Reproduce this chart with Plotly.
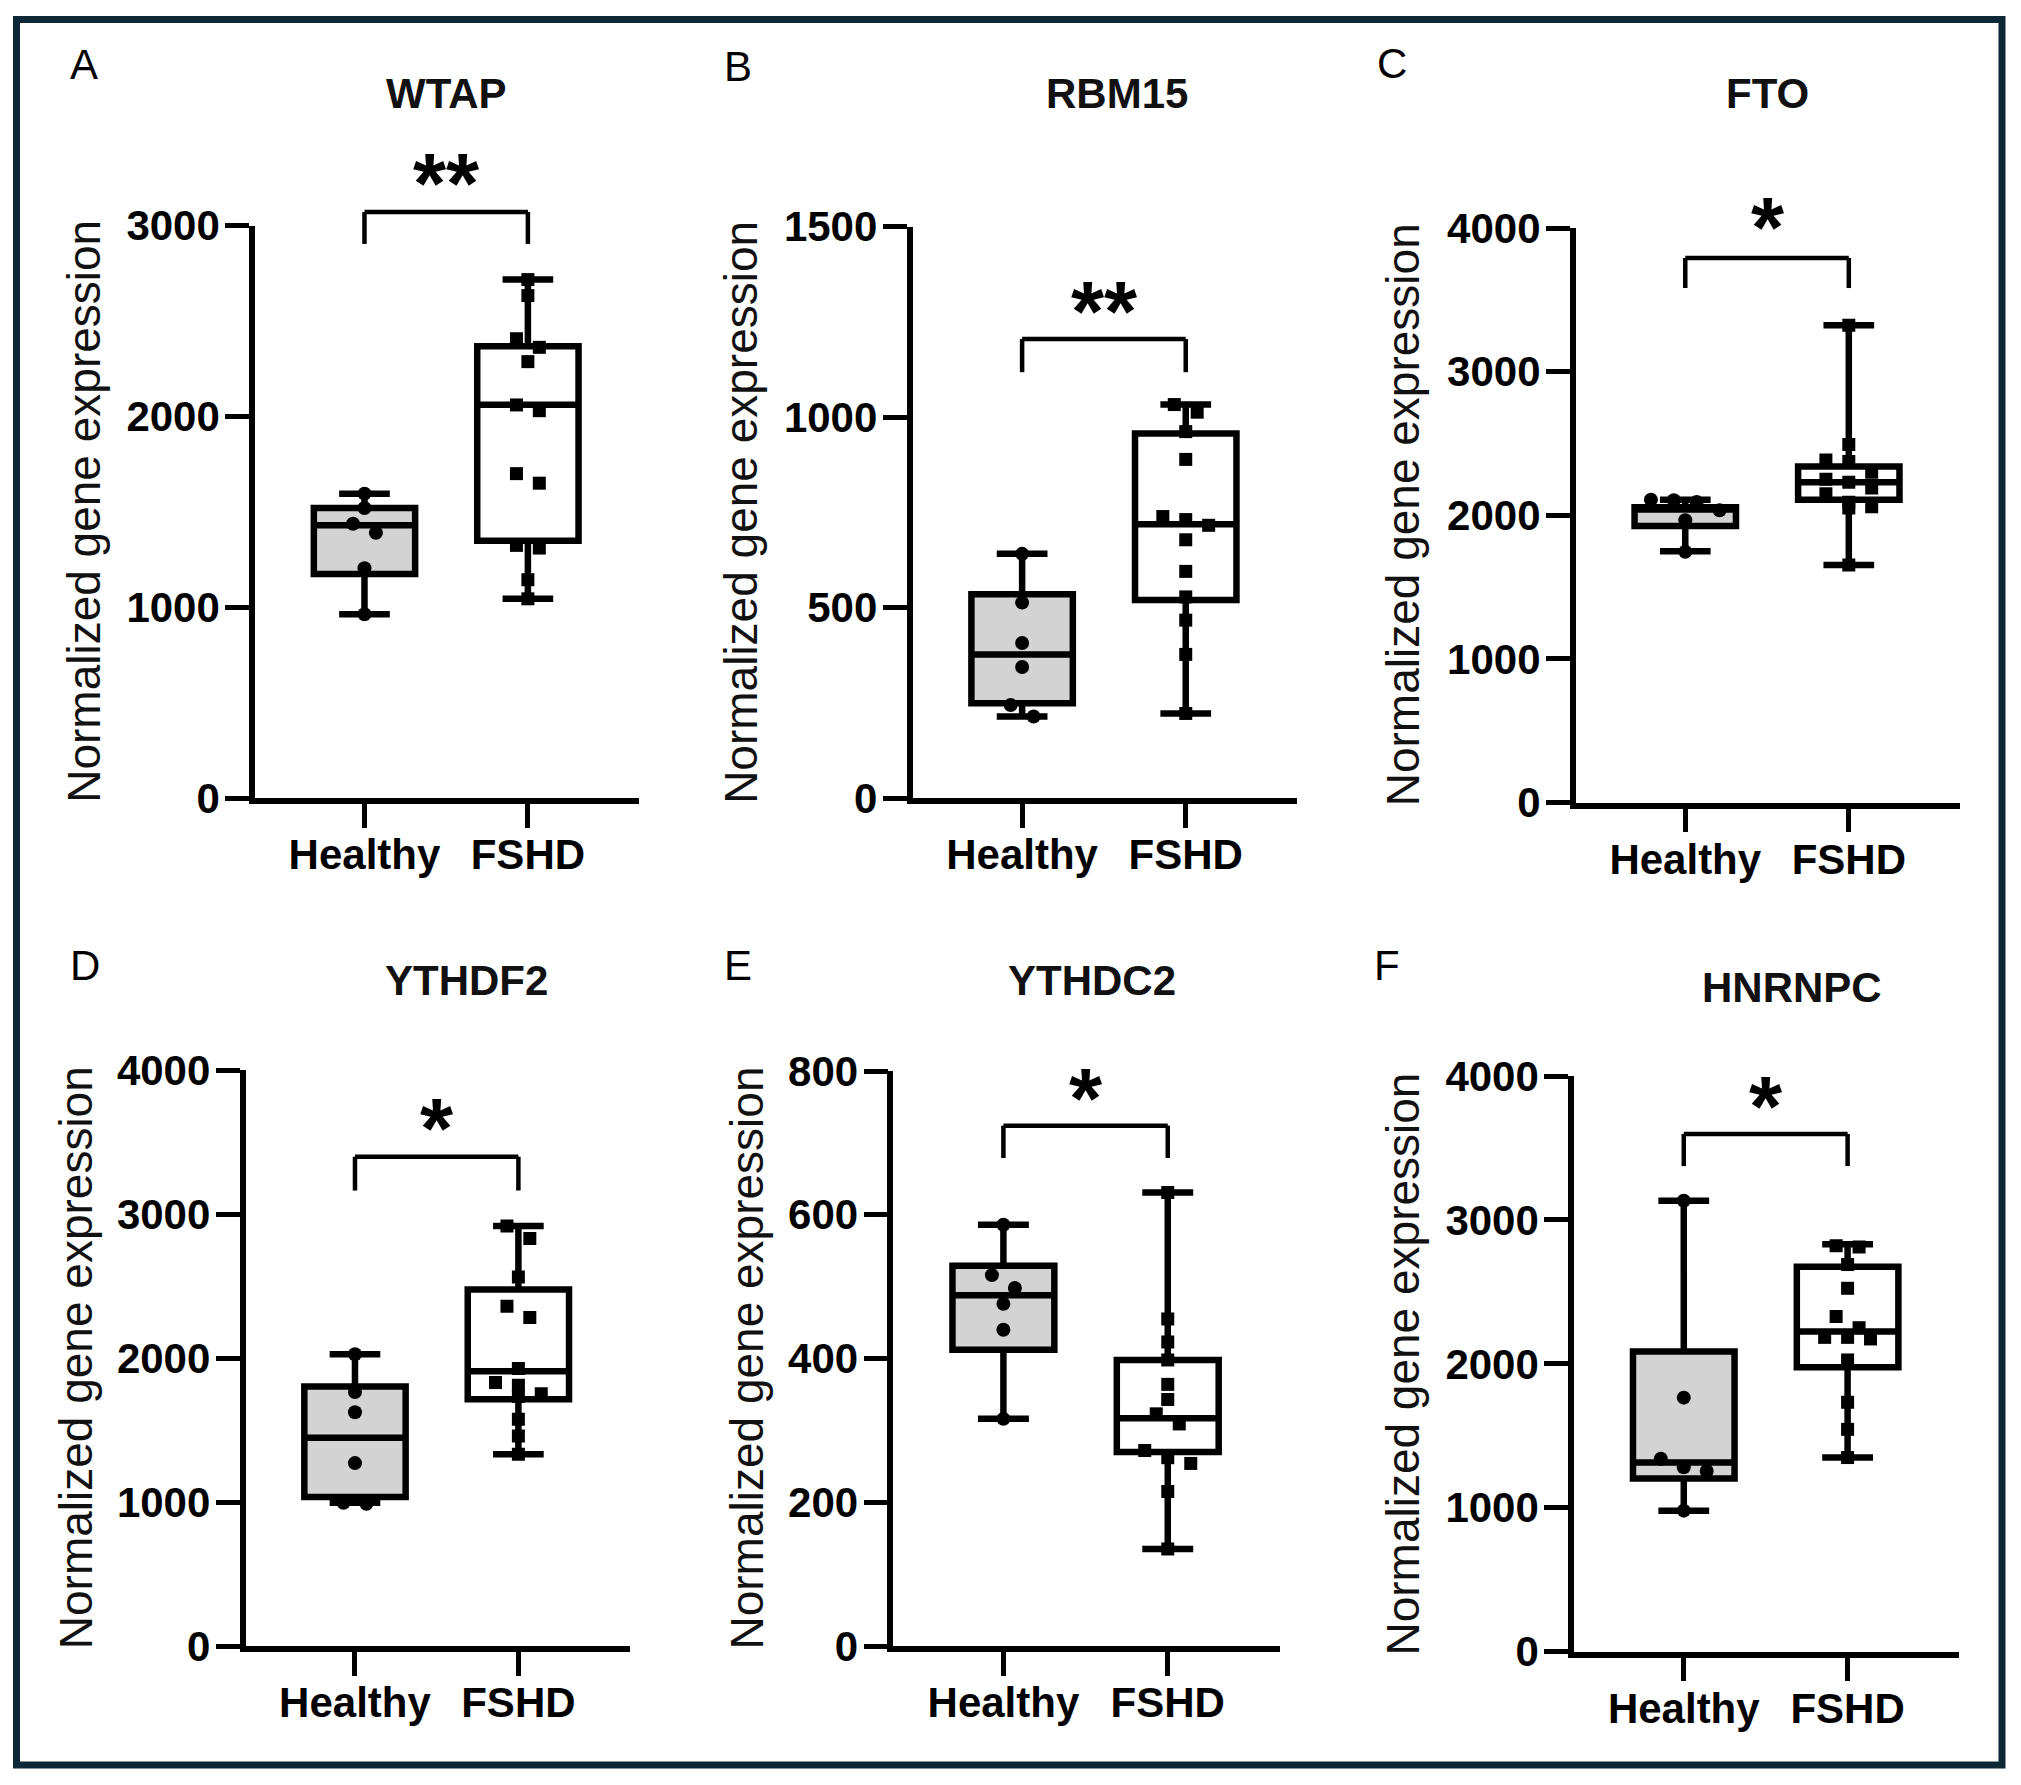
import plotly.graph_objects as go

# ---- data ----
GENES = ["WTAP", "RBM15", "FTO", "YTHDF2", "YTHDC2", "HNRNPC"]
LETTERS = ["A", "B", "C", "D", "E", "F"]
GROUPS = ["Healthy", "FSHD"]
SIGNIF = ["**", "**", "*", "*", "*", "*"]

Y_MAX = [3000, 1500, 4000, 4000, 800, 4000]
Y_STEP = [1000, 500, 1000, 1000, 200, 1000]

# individual samples
WTAP_HEALTHY = [1595, 1520, 1437, 1390, 1204, 963]
WTAP_FSHD = [2717, 2633, 2407, 2362, 2287, 2060, 2030, 1700, 1650, 1324, 1310, 1144, 1044]
RBM15_HEALTHY = [641, 513, 407, 344, 244, 214]
RBM15_FSHD = [1033, 1013, 962, 889, 739, 731, 716, 678, 595, 528, 467, 377, 222]
FTO_HEALTHY = [2108, 2104, 2092, 2035, 1965, 1746]
FTO_FSHD = [3323, 2492, 2385, 2375, 2300, 2250, 2230, 2190, 2150, 2090, 2060, 2050, 1654]
YTHDF2_HEALTHY = [2027, 1765, 1624, 1271, 996, 988]
YTHDF2_FSHD = [2918, 2831, 2565, 2361, 2282, 1929, 1831, 1812, 1753, 1733, 1576, 1459, 1333]
YTHDC2_HEALTHY = [586, 516, 498, 476, 440, 316]
YTHDC2_FSHD = [631, 455, 423, 398, 364, 343, 323, 309, 272, 262, 254, 215, 135]
HNRNPC_HEALTHY = [3133, 1765, 1341, 1282, 1255, 980]
HNRNPC_FSHD = [2820, 2812, 2690, 2525, 2329, 2251, 2184, 2184, 2173, 2027, 1733, 1545, 1349]

# box statistics as drawn: q1, median, q3, min, max
WTAP_BOX = [[1174, 1429, 1520, 963, 1595], [1348, 2061, 2368, 1044, 2717]]
RBM15_BOX = [[249, 377, 535, 214, 641], [520, 719, 957, 222, 1033]]
FTO_BOX = [[1926, 2040, 2055, 1750, 2108], [2108, 2229, 2339, 1654, 3323]]
YTHDF2_BOX = [[1035, 1447, 1804, 996, 2027], [1714, 1910, 2478, 1333, 2918]]
YTHDC2_BOX = [[412, 488, 529, 316, 586], [270, 317, 398, 135, 631]]
HNRNPC_BOX = [[1204, 1314, 2086, 980, 3133], [1976, 2224, 2675, 1349, 2831]]

# significance bracket: bar height, leg end, star height (data units)
BRACKETS = [
    [3071, 2904, 3285],
    [1205, 1118, 1310],
    [3791, 3582, 4090],
    [3400, 3165, 3680],
    [724, 679, 779],
    [3597, 3374, 3870],
]

SAMPLES = [
    (WTAP_HEALTHY, WTAP_FSHD),
    (RBM15_HEALTHY, RBM15_FSHD),
    (FTO_HEALTHY, FTO_FSHD),
    (YTHDF2_HEALTHY, YTHDF2_FSHD),
    (YTHDC2_HEALTHY, YTHDC2_FSHD),
    (HNRNPC_HEALTHY, HNRNPC_FSHD),
]
BOXES = [WTAP_BOX, RBM15_BOX, FTO_BOX, YTHDF2_BOX, YTHDC2_BOX, HNRNPC_BOX]

# ---- layout (pixels of the 2021x1785 page) ----
PAGE_W, PAGE_H = 2021, 1785
BODY = 8  # default body margin of the html page
W, H = PAGE_W - 2 * BODY, PAGE_H - 2 * BODY


def px(x):
    return (x - BODY) / W


def py(y):
    return 1 - (y - BODY) / H


# axis left, axis right, axis top, axis bottom
GEOM = [
    (255, 639, 225.6, 798),
    (912.5, 1297, 226.7, 798),
    (1575.7, 1960, 228, 802.5),
    (245.5, 629.5, 1070.4, 1646),
    (893.3, 1279.5, 1071, 1646),
    (1574, 1959, 1076, 1651.7),
]
TITLE_POS = [(446, 94), (1116.5, 94), (1767, 94), (466.5, 980), (1092, 980), (1791.6, 987)]
LETTER_POS = [(84, 65), (738, 66), (1391.5, 64), (85, 965), (738, 965), (1387, 965)]
YTITLE_X = [84, 741.5, 1403, 76, 746, 1402.7]

X_RANGE = [-0.67, 1.68]
FONT = "Liberation Sans, Arial, sans-serif"
FILLS = ["rgb(211,211,211)", "white"]
SYMBOLS = ["circle", "square"]
MSIZE = [14, 13]


def swarm(values, px_per_unit, step=0.14, gap=14):
    # GraphPad-like spread: neighbours closer than `gap` px share a row
    order = sorted(range(len(values)), key=lambda i: -values[i])
    rows = []
    for i in order:
        if rows and (values[rows[-1][0]] - values[i]) * px_per_unit < gap:
            rows[-1].append(i)
        else:
            rows.append([i])
    off = [0.0] * len(values)
    for r in rows:
        for k, i in enumerate(r):
            off[i] = (k - (len(r) - 1) / 2) * step
    return off


fig = go.Figure()
annotations = []
shapes = []

for p in range(6):
    sfx = "" if p == 0 else str(p + 1)
    xa, ya = f"x{sfx}", f"y{sfx}"
    x0, x1, top, bot = GEOM[p]
    ppu = (bot - top) / Y_MAX[p]

    for g in range(2):
        q1, med, q3, lo, hi = BOXES[p][g]
        fig.add_trace(go.Box(
            x=[g], q1=[q1], median=[med], q3=[q3], lowerfence=[lo], upperfence=[hi],
            width=0.62, whiskerwidth=0.5, fillcolor=FILLS[g],
            line=dict(color="black", width=6.5), boxpoints=False,
            hoverinfo="skip", showlegend=False, xaxis=xa, yaxis=ya,
        ))
        vals = SAMPLES[p][g]
        off = swarm(vals, ppu)
        fig.add_trace(go.Scatter(
            x=[g + o for o in off], y=vals, mode="markers",
            marker=dict(symbol=SYMBOLS[g], size=MSIZE[g], color="black", line_width=0),
            hoverinfo="y", showlegend=False, xaxis=xa, yaxis=ya,
        ))

    axis_common = dict(
        showline=True, linewidth=5.5, linecolor="black", ticks="outside",
        ticklen=24, tickwidth=5, tickcolor="black", showgrid=False,
        zeroline=False, fixedrange=True, automargin=False,
        tickfont=dict(family=FONT, size=42, color="black", weight="bold"),
    )
    fig.update_layout({
        f"xaxis{sfx}": dict(
            domain=[px(x0), px(x1)], range=X_RANGE, anchor=ya,
            tickvals=[0, 1], ticktext=GROUPS, ticklabelstandoff=-9, **axis_common,
        ),
        f"yaxis{sfx}": dict(
            domain=[py(bot), py(top)], range=[0, Y_MAX[p]], anchor=xa,
            tickvals=list(range(0, Y_MAX[p] + 1, Y_STEP[p])), tickformat="d",
            ticklabelstandoff=-3, **axis_common,
        ),
    })

    # significance bracket
    bar, leg, star = BRACKETS[p]
    yd = f"{ya} domain"
    for (ax0, ay0, ax1, ay1) in [(0, leg, 0, bar), (0, bar, 1, bar), (1, bar, 1, leg)]:
        shapes.append(dict(
            type="line", xref=xa, yref=yd, x0=ax0, x1=ax1,
            y0=ay0 / Y_MAX[p], y1=ay1 / Y_MAX[p],
            line=dict(color="black", width=4.5),
        ))
    annotations.append(dict(
        x=0.5, xref=xa, y=star / Y_MAX[p], yref=yd, yshift=-12,
        text=SIGNIF[p], showarrow=False,
        font=dict(family=FONT, size=85, color="black", weight="bold"),
        xanchor="center", yanchor="middle",
    ))

    tx, ty = TITLE_POS[p]
    annotations.append(dict(
        x=px(tx), y=py(ty), xref="paper", yref="paper", text=GENES[p],
        showarrow=False, xanchor="center", yanchor="middle",
        font=dict(family=FONT, size=42, color="#111111", weight="bold"),
    ))
    lx, ly = LETTER_POS[p]
    annotations.append(dict(
        x=px(lx), y=py(ly), xref="paper", yref="paper", text=LETTERS[p],
        showarrow=False, xanchor="center", yanchor="middle",
        font=dict(family=FONT, size=42, color="black"),
    ))
    annotations.append(dict(
        x=px(YTITLE_X[p]), y=0.5, xref="paper", yref=yd,
        text="Normalized gene expression", textangle=-90, showarrow=False,
        xanchor="center", yanchor="middle",
        font=dict(family=FONT, size=46, color="#111111"),
    ))

# dark frame around the whole figure
shapes.append(dict(
    type="rect", xref="paper", yref="paper",
    x0=px(16.5), x1=px(2002), y0=py(1765), y1=py(19.5),
    line=dict(color="#0d2736", width=7),
))

fig.update_layout(
    width=W, height=H, margin=dict(l=0, r=0, t=0, b=0, pad=0),
    paper_bgcolor="white", plot_bgcolor="white",
    annotations=annotations, shapes=shapes, showlegend=False,
)

fig.write_html("out.html", config={"displayModeBar": False})
